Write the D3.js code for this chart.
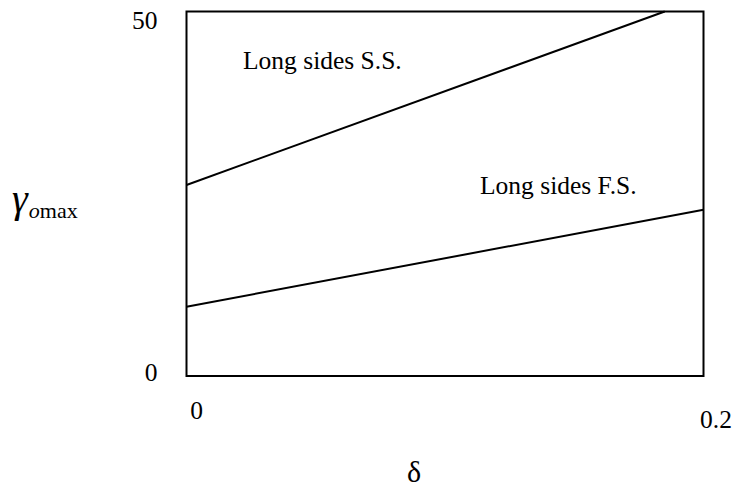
<!DOCTYPE html>
<html>
<head>
<meta charset="utf-8">
<script src="https://cdn.jsdelivr.net/npm/d3@7"></script>
<style>
  body { margin: 0; background: #fff; }
  svg text { font-family: "Liberation Serif", "Times New Roman", serif; fill: #000; }
</style>
</head>
<body>
<svg id="chart" width="734" height="492"></svg>
<script>
// Axis domains and tick labels
const xDomain = [0, 0.2];
const yDomain = [0, 50];
const xTicks = [0, 0.2];
const yTicks = [0, 50];
const xTickLabels = ["0", "0.2"];
const yTickLabels = ["0", "50"];

// Two straight lines: gamma_o,max versus delta
const ssDelta = [0, 0.185];
const ssValue = [26.2, 50];
const fsDelta = [0, 0.2];
const fsValue = [9.5, 22.8];

const seriesLabels = ["Long sides S.S.", "Long sides F.S."];

const svg = d3.select("#chart");
const margin = { left: 186.5, right: 30.5, top: 11.5, bottom: 116 };
const W = 734, H = 492;

const x = d3.scaleLinear().domain(xDomain).range([margin.left, W - margin.right]);
const y = d3.scaleLinear().domain(yDomain).range([H - margin.bottom, margin.top]);

// Plot frame
svg.append("rect")
  .attr("x", x(0)).attr("y", y(50))
  .attr("width", x(0.2) - x(0)).attr("height", y(0) - y(50))
  .attr("fill", "none").attr("stroke", "#000").attr("stroke-width", 2);

const line = d3.line().x(d => x(d[0])).y(d => y(d[1]));

const series = [
  d3.zip(ssDelta, ssValue),
  d3.zip(fsDelta, fsValue)
];

svg.selectAll("path.series").data(series).enter().append("path")
  .attr("class", "series")
  .attr("d", line)
  .attr("fill", "none").attr("stroke", "#000").attr("stroke-width", 2);

// Tick labels (no tick marks)
svg.selectAll("text.ytick").data(yTicks).enter().append("text")
  .attr("class", "ytick")
  .attr("x", x(0) - 29)
  .attr("y", (d, i) => y(d) + (d === 0 ? 4.5 : 17.5))
  .attr("text-anchor", "end")
  .attr("font-size", 25.5)
  .text((d, i) => yTickLabels[i]);

svg.selectAll("text.xtick").data(xTicks).enter().append("text")
  .attr("class", "xtick")
  .attr("x", (d, i) => x(d) + (i === 0 ? 10 : 12.5))
  .attr("y", (d, i) => y(0) + (i === 0 ? 42.5 : 51.5))
  .attr("text-anchor", "middle")
  .attr("font-size", 25.5)
  .text((d, i) => xTickLabels[i]);

// Line labels
svg.append("text").attr("x", 243).attr("y", 69).attr("font-size", 25.5).text(seriesLabels[0]);
svg.append("text").attr("x", 480).attr("y", 194).attr("font-size", 25.5).text(seriesLabels[1]);

// Y axis title: gamma_o max
const yt = svg.append("text").attr("x", 12).attr("y", 212);
yt.append("tspan").attr("font-size", 40).attr("font-style", "italic").text("γ");
yt.append("tspan").attr("font-size", 22).attr("font-style", "italic").attr("dy", 6).attr("dx", 1).text("o");
yt.append("tspan").attr("font-size", 22).text("max");

// X axis title: delta
svg.append("text").attr("x", 407).attr("y", 482)
  .attr("font-size", 30).text("δ");
</script>
</body>
</html>
